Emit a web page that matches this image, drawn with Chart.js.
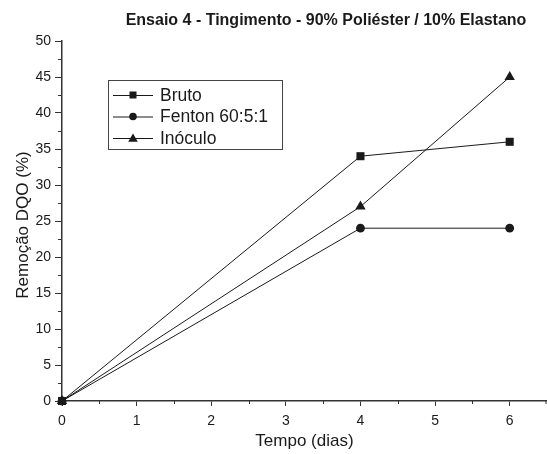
<!DOCTYPE html>
<html>
<head>
<meta charset="utf-8">
<script src="https://cdn.jsdelivr.net/npm/chart.js@4"></script>
<style>
html,body{margin:0;padding:0;background:#fff;}
#wrap{width:547px;height:454px;position:relative;}
</style>
</head>
<body>
<div id="wrap"><canvas id="c" width="547" height="454"></canvas></div>
<script>
const chartTitle = "Ensaio 4 - Tingimento - 90% Poliéster / 10% Elastano";
const xTitle = "Tempo (dias)";
const yTitle = "Remoção DQO (%)";
const days = [0, 4, 6];
const seriesNames = ["Bruto", "Fenton 60:5:1", "Inóculo"];
const bruto = [0, 34, 36];
const fenton = [0, 24, 24];
const inoculo = [0, 27, 45];
const markers = ["rect", "circle", "triangle"];

const FONT = "'Liberation Sans', Arial, sans-serif";
const INK = "#1a1a1a";
const AXIS = "#333";

function pts(vals){ return days.map((d,i)=>({x:d,y:vals[i]})); }
const seriesVals = [bruto, fenton, inoculo];
const markerRadius = {rect:5.7, circle:4.4, triangle:6};

const datasets = seriesNames.map((n,i)=>({
  label:n,
  data:pts(seriesVals[i]),
  borderColor:INK,
  backgroundColor:INK,
  borderWidth:1,
  pointStyle:markers[i],
  pointRadius:markerRadius[markers[i]],
  pointBackgroundColor:INK,
  pointBorderColor:INK,
  pointBorderWidth:0,
  tension:0,
  clip:false
}));

const extras = {
  id:'extras',
  afterDraw(chart){
    const ctx = chart.ctx;
    const xs = chart.scales.x, ys = chart.scales.y;
    ctx.save();
    // minor ticks
    ctx.strokeStyle = AXIS; ctx.lineWidth = 1;
    for(let v=2.5; v<50; v+=5){
      const py = Math.round(ys.getPixelForValue(v))+0.5;
      ctx.beginPath(); ctx.moveTo(xs.left-4, py); ctx.lineTo(xs.left, py); ctx.stroke();
    }
    for(let v=0.5; v<=6.5; v+=1){
      const px = Math.min(Math.round(xs.getPixelForValue(v))+0.5, chart.width-1);
      ctx.beginPath(); ctx.moveTo(px, ys.bottom); ctx.lineTo(px, ys.bottom+3); ctx.stroke();
    }
    // title
    ctx.fillStyle = INK;
    ctx.font = "bold 16px " + FONT;
    ctx.textAlign = "center"; ctx.textBaseline = "middle";
    ctx.fillText(chartTitle, 326, 21);
    // y axis title
    ctx.save();
    ctx.translate(23, 225);
    ctx.rotate(-Math.PI/2);
    ctx.font = "17px " + FONT;
    ctx.fillText(yTitle, 0, 0);
    ctx.restore();
    // legend
    const bx = 108, by = 80, bw = 174, bh = 69;
    ctx.strokeStyle = "#444"; ctx.lineWidth = 1;
    ctx.strokeRect(bx+0.5, by+0.5, bw, bh);
    const rows = [95, 116.5, 138];
    seriesNames.forEach((n,i)=>{
      const y = rows[i];
      ctx.strokeStyle = INK; ctx.lineWidth = 1;
      ctx.beginPath(); ctx.moveTo(113, y+0.5); ctx.lineTo(153, y+0.5); ctx.stroke();
      ctx.fillStyle = INK;
      const cx = 133;
      if(markers[i]==='rect'){ ctx.fillRect(cx-3.5, y-3.5, 7, 7); }
      else if(markers[i]==='circle'){ ctx.beginPath(); ctx.arc(cx, y, 3.8, 0, Math.PI*2); ctx.fill(); }
      else { ctx.beginPath(); ctx.moveTo(cx, y-4.5); ctx.lineTo(cx+4.8, y+3.8); ctx.lineTo(cx-4.8, y+3.8); ctx.closePath(); ctx.fill(); }
      ctx.font = "17.5px " + FONT;
      ctx.textAlign = "left"; ctx.textBaseline = "middle";
      ctx.fillText(n, 160, y+1);
    });
    ctx.restore();
  }
};

new Chart(document.getElementById('c'), {
  type:'line',
  data:{datasets},
  options:{
    responsive:false,
    animation:false,
    devicePixelRatio:1,
    layout:{autoPadding:false, padding:{top:41, left:0, right:0, bottom:0}},
    plugins:{legend:{display:false}, title:{display:false}, tooltip:{enabled:false}},
    scales:{
      x:{
        type:'linear', min:0, max:6.5,
        afterFit(s){ s.height = 53; s.paddingRight = 0; s.paddingLeft = 0; },
        border:{display:true, color:AXIS, width:1.5},
        grid:{drawOnChartArea:false, drawTicks:true, tickLength:5, tickColor:AXIS, tickWidth:1},
        ticks:{stepSize:1, includeBounds:false, color:INK, font:{family:FONT, size:14}, padding:7, maxRotation:0},
        title:{display:true, text:xTitle, color:INK, font:{family:FONT, size:17}, padding:{top:0, bottom:2}}
      },
      y:{
        type:'linear', min:0, max:50,
        afterFit(s){ s.width = 62; s.paddingTop = 0; s.paddingBottom = 0; },
        border:{display:true, color:AXIS, width:1.5},
        grid:{drawOnChartArea:false, drawTicks:true, tickLength:7, tickColor:AXIS, tickWidth:1},
        ticks:{stepSize:5, color:INK, font:{family:FONT, size:14}, padding:4},
        title:{display:false}
      }
    }
  },
  plugins:[extras]
});
</script>
</body>
</html>
